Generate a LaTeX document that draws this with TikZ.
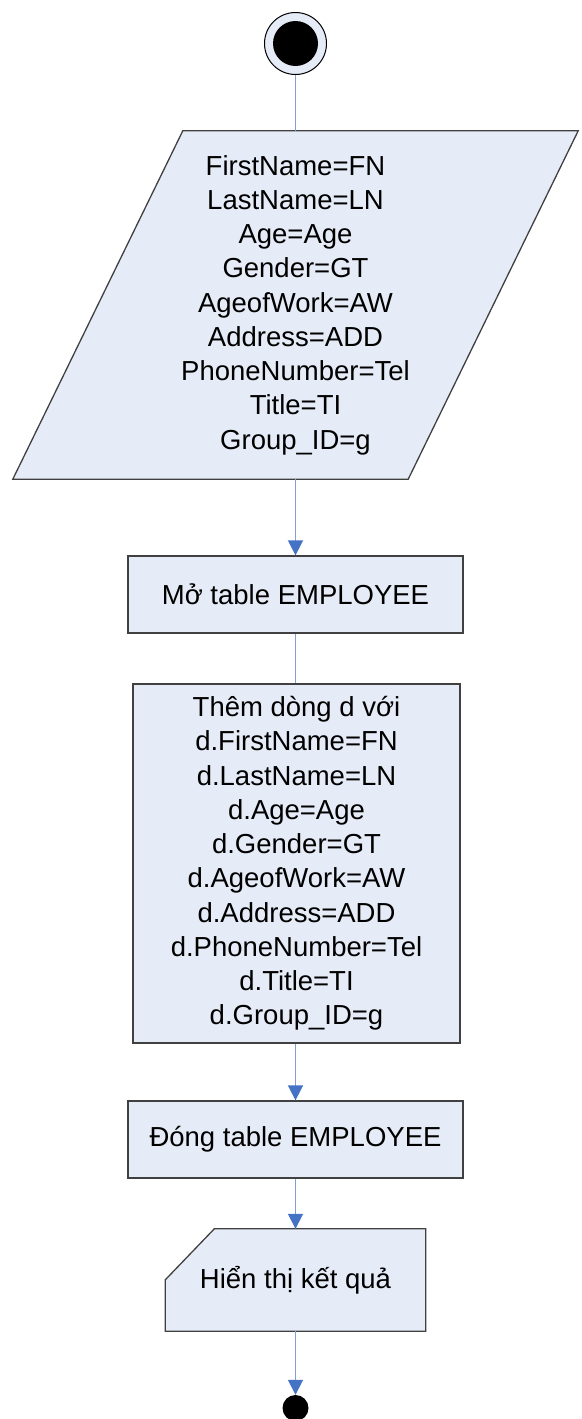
\documentclass[tikz,border=0pt]{standalone}
\usepackage{fontspec}
\setmainfont{Liberation Sans}
\usetikzlibrary{arrows.meta,backgrounds}
\definecolor{boxfill}{HTML}{E6ECF7}
\definecolor{boxline}{HTML}{404040}
\definecolor{conline}{HTML}{7F9FD8}
\definecolor{arrowblue}{HTML}{4472C4}
\newcommand\mainfs{\fontsize{27.5}{34.25}\selectfont}
\tikzset{
  shapeline/.style={draw=boxline, fill=boxfill, line width=1.3pt},
  proc/.style={shapeline, minimum width=335pt, minimum height=77pt, align=center, inner sep=0pt, font=\mainfs},
  plain/.style={align=center, inner sep=0pt, font=\mainfs},
  conn/.style={draw=conline, line width=1.6pt},
  arr/.style={conn, -{Triangle[length=15pt, width=15pt, color=arrowblue]}},
}
\begin{document}
\begin{tikzpicture}[x=1pt,y=-1pt]
\useasboundingbox (0,0) rectangle (581,1419);
% start
\node[circle, draw=black, fill=boxfill, line width=1pt, minimum size=62pt, inner sep=0pt] (start) at (295.5,43.5) {};
\node[circle, fill=black, minimum size=45pt, inner sep=0pt] (startdot) at (start.center) {};
% input parallelogram
\node[plain, minimum width=395pt, minimum height=348pt] (input) at (295.5,305) {FirstName=FN\\LastName=LN\\Age=Age\\Gender=GT\\AgeofWork=AW\\Address=ADD\\PhoneNumber=Tel\\Title=TI\\Group\_ID=g};
\begin{scope}[on background layer]
\draw[shapeline] ([xshift=85pt]input.north west) -- ([xshift=85pt]input.north east) -- ([xshift=-85pt]input.south east) -- ([xshift=-85pt]input.south west) -- cycle;
\end{scope}
% processes
\node[proc] (open) at (295.5,594.5) {Mở table EMPLOYEE};
\node[proc, minimum width=327pt, minimum height=359pt] (add) at (296.5,863.5) {Thêm dòng d với\\d.FirstName=FN\\d.LastName=LN\\d.Age=Age\\d.Gender=GT\\d.AgeofWork=AW\\d.Address=ADD\\d.PhoneNumber=Tel\\d.Title=TI\\d.Group\_ID=g};
\node[proc] (close) at (295.5,1139.5) {Đóng table EMPLOYEE};
% display
\node[plain, minimum width=260pt, minimum height=102pt] (disp) at (295.5,1280) {Hiển thị kết quả};
\begin{scope}[on background layer]
\draw[shapeline] ([xshift=49pt]disp.north west) -- (disp.north east) -- (disp.south east) -- (disp.south west) -- ([yshift=-51pt]disp.north west) -- cycle;
\end{scope}
% end
\node[circle, fill=black, minimum size=26pt, inner sep=0pt] (end) at (295.5,1408) {};
% connectors
\draw[conn] (start.south) -- (input.north);
\draw[arr] (input.south) -- (open.north);
\draw[conn] (open.south) -- (open.south |- add.north);
\draw[arr] (open.south |- add.south) -- (close.north);
\draw[arr] (close.south) -- (disp.north);
\draw[arr] (disp.south) -- (end.north);
\end{tikzpicture}
\end{document}
